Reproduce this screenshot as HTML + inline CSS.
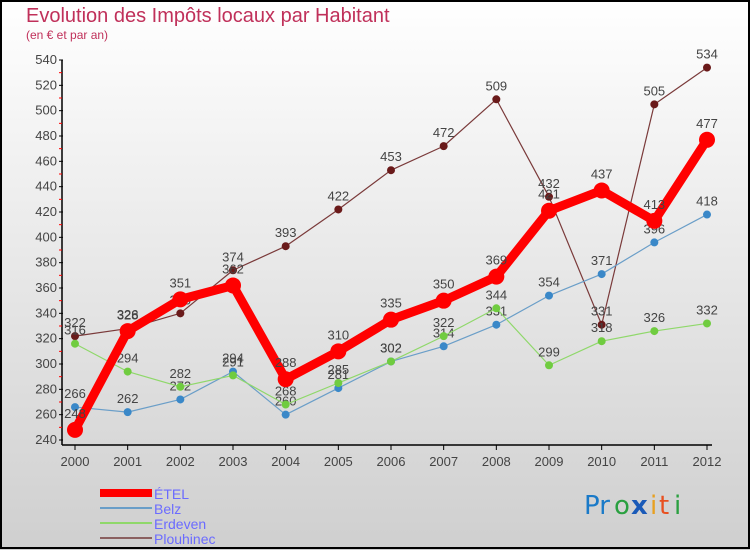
<!DOCTYPE html>
<html><head><meta charset="utf-8"><style>
body{margin:0}
svg{display:block;font-family:"Liberation Sans","DejaVu Sans",sans-serif}
</style></head><body>
<svg width="750" height="550" xmlns="http://www.w3.org/2000/svg">
<defs><linearGradient id="bg" x1="0" y1="0" x2="0" y2="1"><stop offset="0" stop-color="#ffffff"/><stop offset="1" stop-color="#cfcfcf"/></linearGradient></defs>
<rect x="0" y="0" width="750" height="550" fill="url(#bg)"/>
<rect x="1" y="1" width="748" height="547" fill="none" stroke="#000" stroke-width="2"/>
<text x="26" y="22" font-size="20" fill="#c0305a">Evolution des Impôts locaux par Habitant</text>
<text x="26" y="39" font-size="12" fill="#c0305a">(en € et par an)</text>
<g id="axes"></g>
<g id="series"></g>
<g font-family="Liberation Sans, sans-serif" font-size="14" fill="#6b6bff">
<rect x="100" y="489" width="52" height="8" fill="#f00"/>
<text x="154" y="499">ÉTEL</text>
<rect x="100" y="507" width="52" height="2" fill="#6a9ec8"/>
<text x="154" y="514">Belz</text>
<rect x="100" y="522" width="52" height="2" fill="#8fd86a"/>
<text x="154" y="529">Erdeven</text>
<rect x="100" y="537" width="52" height="2" fill="#8a6060"/>
<text x="154" y="544">Plouhinec</text>
</g>
<g font-family="DejaVu Sans, sans-serif" font-size="26">
<text x="584" y="514" fill="#1a7ac8">Pr</text><text x="614" y="514" fill="#2aa040">o</text><text x="631" y="514" fill="#1a5ab8" font-weight="bold">x</text><text x="650" y="514" fill="#e8a020">i</text><text x="659" y="514" fill="#e85020">t</text><text x="674" y="514" fill="#2aa040">i</text>
</g>
</svg>
<script>
const years=["2000","2001","2002","2003","2004","2005","2006","2007","2008","2009","2010","2011","2012"];
const yTicks=[240,260,280,300,320,340,360,380,400,420,440,460,480,500,520,540];
const etel=[248,326,351,362,288,310,335,350,369,421,437,413,477];
const belz=[266,262,272,294,260,281,302,314,331,354,371,396,418];
const erdeven=[316,294,282,291,268,285,302,322,344,299,318,326,332];
const plouhinec=[322,328,340,374,393,422,453,472,509,432,331,505,534];
const NS="http://www.w3.org/2000/svg";
const X=i=>75+i*(707-75)/(years.length-1);
const Y=v=>440-(v-240)*(380/300);
function mk(tag,attrs,parent,txt){const e=document.createElementNS(NS,tag);for(const k in attrs)e.setAttribute(k,attrs[k]);if(txt!==undefined)e.textContent=txt;parent.appendChild(e);return e;}
const ax=document.getElementById('axes');
let a=mk('line',{x1:62,y1:60,x2:62,y2:445,stroke:'#000','stroke-width':1.5},ax);


a=mk('line',{x1:62,y1:445,x2:712,y2:445,stroke:'#000','stroke-width':1.5},ax);


yTicks.forEach((t,i)=>{const y=Y(t);
 mk('line',{x1:59,y1:y,x2:63,y2:y,stroke:'#000'},ax);
 if(i<yTicks.length-1)mk('line',{x1:59,y1:y-380/30,x2:62,y2:y-380/30,stroke:'#f00'},ax);
 const tx=mk('text',{x:57,y:y+4,'font-size':13,fill:'#444','text-anchor':'end'},ax,t);
 
 
});
years.forEach((yr,i)=>{const x=X(i);
 mk('line',{x1:x,y1:445,x2:x,y2:450,stroke:'#000'},ax);
 const tx=mk('text',{x:x,y:466,'font-size':13,fill:'#444','text-anchor':'middle'},ax,yr);
 
 
});
const sg=document.getElementById('series');
function draw(name,vals,color,dot,w,r,off){
 const g=mk('g',{},sg);
 
 
 const p=mk('polyline',{points:vals.map((v,i)=>X(i)+','+Y(v)).join(' '),fill:'none',stroke:color,'stroke-width':w,'stroke-linejoin':'round'},g);
 
 
 vals.forEach((v,i)=>{
  const c=mk('circle',{cx:X(i),cy:Y(v),r:r,fill:dot},g);
  
  
  const t=mk('text',{x:X(i),y:Y(v)-off,'font-size':13,fill:'#444','text-anchor':'middle'},g,v);
  
  
 });
}
draw('plouhinec',plouhinec,'#7a3a3a','#6a1a1a',1.2,4,9);
draw('belz',belz,'#6a9ec8','#3a88c8',1.2,4,9);
draw('erdeven',erdeven,'#8fd86a','#70cc40',1.2,4,9);
draw('etel',etel,'#f00','#f00',9,8,12);
</script>
</body></html>
